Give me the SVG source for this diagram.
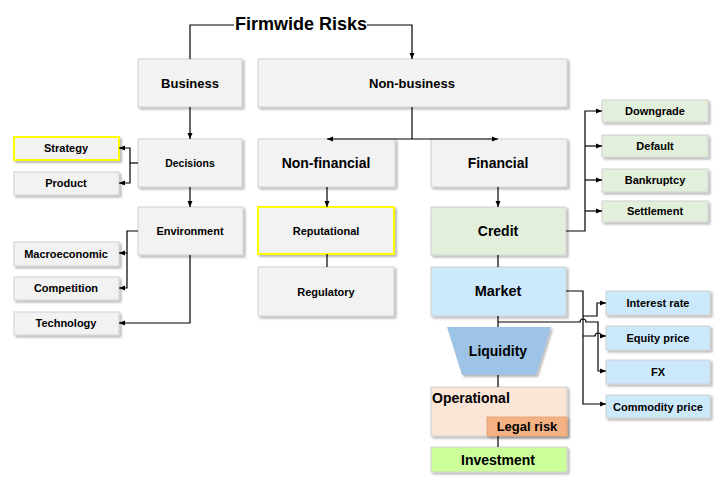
<svg xmlns="http://www.w3.org/2000/svg" width="724" height="483" viewBox="0 0 724 483">
<defs>
<filter id="sh" x="-10%" y="-10%" width="130%" height="140%">
<feDropShadow dx="2" dy="2" stdDeviation="1" flood-color="#000" flood-opacity="0.28"/>
</filter>
<marker id="ar" markerWidth="6" markerHeight="6" refX="6" refY="3" orient="auto" markerUnits="userSpaceOnUse">
<path d="M0,0.5 L6,3 L0,5.5 z" fill="#000"/>
</marker>
</defs>
<style>
text{font-family:"Liberation Sans",Arial,sans-serif;font-weight:bold;fill:#000;text-anchor:middle}
.b{stroke:#d0d0d0;stroke-width:1;filter:url(#sh)}
.g{fill:#f2f2f2}
.y{fill:#f2f2f2;stroke:#ffff00;stroke-width:2}
.gr{fill:#e2efda}
.bl{fill:#cce8fb}
.c{fill:none;stroke:#000;stroke-width:1.2}
.ca{fill:none;stroke:#000;stroke-width:1.2;marker-end:url(#ar)}
.s11{font-size:11px}
.s13{font-size:13px}
.s14{font-size:14px}
</style>
<rect width="724" height="483" fill="#fff"/>

<g id="title"><text x="301" y="30" style="font-size:18px">Firmwide Risks</text></g>

<g id="business"><rect class="b g" x="138" y="59" width="104" height="48"/><text class="s13" x="190" y="88">Business</text></g>
<g id="nonbusiness"><rect class="b g" x="258" y="59" width="309" height="48"/><text class="s13" x="412" y="88">Non-business</text></g>
<g id="decisions"><rect class="b g" x="138" y="139" width="104" height="48"/><text x="190" y="167" style="font-size:10.5px">Decisions</text></g>
<g id="nonfinancial"><rect class="b g" x="258" y="139" width="137" height="48"/><text class="s14" x="326" y="168">Non-financial</text></g>
<g id="financial"><rect class="b g" x="431" y="139" width="136" height="48"/><text class="s14" x="498" y="168">Financial</text></g>
<g id="environment"><rect class="b g" x="138" y="207" width="105" height="48"/><text class="s11" x="190" y="235">Environment</text></g>

<g id="strategy"><rect class="b y" x="14" y="137" width="105" height="23"/><text class="s11" x="66" y="152">Strategy</text></g>
<g id="product"><rect class="b g" x="14" y="172" width="105" height="23"/><text class="s11" x="66" y="187">Product</text></g>
<g id="macro"><rect class="b g" x="14" y="242" width="105" height="24"/><text class="s11" x="66" y="258">Macroeconomic</text></g>
<g id="competition"><rect class="b g" x="14" y="277" width="105" height="23"/><text class="s11" x="66" y="292">Competition</text></g>
<g id="technology"><rect class="b g" x="14" y="312" width="105" height="23"/><text class="s11" x="66" y="327">Technology</text></g>

<g id="reputational"><rect class="b y" x="258" y="207" width="136" height="47"/><text class="s11" x="326" y="235">Reputational</text></g>
<g id="regulatory"><rect class="b g" x="258" y="267" width="136" height="49"/><text class="s11" x="326" y="296">Regulatory</text></g>

<g id="credit"><rect class="b gr" x="431" y="207" width="135" height="48"/><text class="s14" x="498" y="236">Credit</text></g>
<g id="market"><rect class="b bl" x="431" y="267" width="135" height="49"/><text x="498" y="296" style="font-size:14.5px">Market</text></g>
<g id="liquidity"><polygon points="447,327 551,327 536,375 462,375" fill="#9dc3e6" filter="url(#sh)"/><text class="s14" x="498" y="356">Liquidity</text></g>
<g id="operational"><rect class="b" x="431" y="387" width="136" height="49" fill="#fbe5d6"/><text class="s14" x="432" y="403" style="text-anchor:start">Operational</text></g>
<g id="legal"><rect x="487" y="417" width="80" height="19" fill="#f4b183" stroke="#e0a070" stroke-width="0.8" filter="url(#sh)"/><text class="s13" x="527" y="431">Legal risk</text></g>
<g id="investment"><rect class="b" x="431" y="447" width="136" height="25" fill="#ccff99"/><text class="s14" x="498" y="465">Investment</text></g>

<g id="downgrade"><rect class="b gr" x="602" y="100" width="106" height="22"/><text class="s11" x="655" y="115">Downgrade</text></g>
<g id="default"><rect class="b gr" x="602" y="135" width="106" height="22"/><text class="s11" x="655" y="150">Default</text></g>
<g id="bankruptcy"><rect class="b gr" x="602" y="169" width="106" height="23"/><text class="s11" x="655" y="184">Bankruptcy</text></g>
<g id="settlement"><rect class="b gr" x="602" y="201" width="106" height="21"/><text class="s11" x="655" y="215">Settlement</text></g>

<g id="interest"><rect class="b bl" x="606" y="291" width="104" height="24"/><text class="s11" x="658" y="307">Interest rate</text></g>
<g id="equity"><rect class="b bl" x="606" y="326" width="104" height="24"/><text class="s11" x="658" y="342">Equity price</text></g>
<g id="fx"><rect class="b bl" x="606" y="360" width="104" height="24"/><text class="s11" x="658" y="376">FX</text></g>
<g id="commodity"><rect class="b bl" x="606" y="395" width="104" height="23"/><text class="s11" x="658" y="411">Commodity price</text></g>

<g id="connectors">
<path class="c" d="M234,25 H190 V59"/>
<path class="ca" d="M367,25 H412 V59"/>
<path class="ca" d="M190,107 V139"/>
<path class="c" d="M412,107 V139"/>
<path class="ca" d="M412,139 H327"/>
<path class="ca" d="M412,139 H498"/>
<path class="c" d="M138,163 H130"/>
<path class="ca" d="M130,163 V148 H119"/>
<path class="ca" d="M130,163 V183 H119"/>
<path class="ca" d="M190,187 V207"/>
<path class="ca" d="M138,231 H127 V253 H119"/>
<path class="ca" d="M127,253 V288 H119"/>
<path class="ca" d="M190,255 V323 H119"/>
<path class="ca" d="M327,187 V207"/>
<path class="c" d="M327,254 V267"/>
<path class="ca" d="M498,187 V207"/>
<path class="c" d="M498,255 V267"/>
<path class="ca" d="M566,231 H585 V111 H602"/>
<path class="ca" d="M585,146 H602"/>
<path class="ca" d="M585,180 H602"/>
<path class="ca" d="M585,211 H602"/>
<path class="c" d="M498,316 V327"/>
<path class="c" d="M498,375 V387"/>
<path class="c" d="M498,436 V447"/>
<path class="ca" d="M566,291 H583 V404 H606"/>
<path class="ca" d="M583,316 H597 V303 H606"/>
<path class="ca" d="M583,336 H595 a3,3 0 0 1 6,0 H606"/>
<path class="ca" d="M498,322 H580 a3,3 0 0 1 6,0 H598 V371 H606"/>
</g>
</svg>
